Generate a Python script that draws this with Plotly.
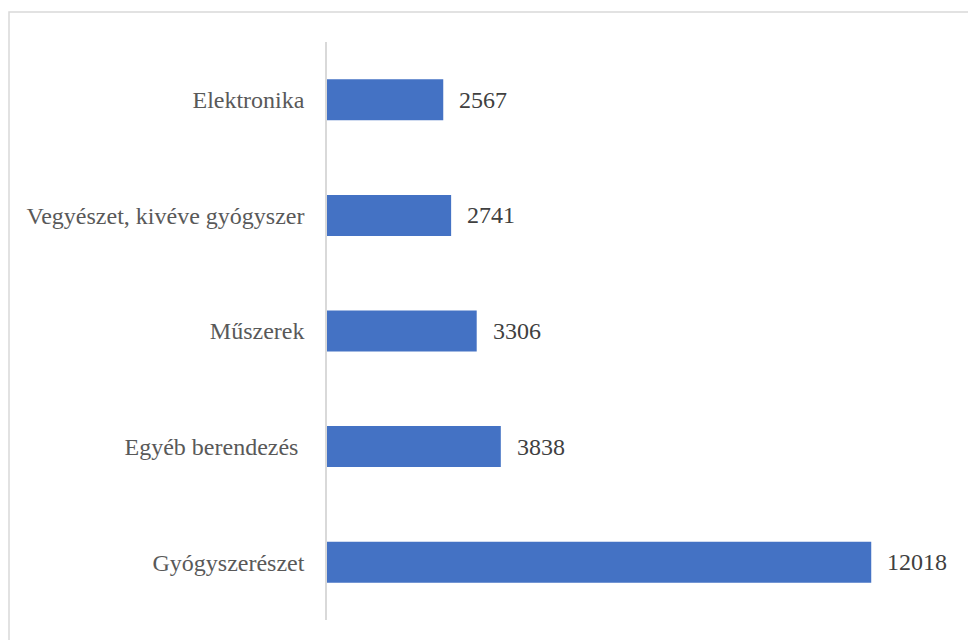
import plotly.graph_objects as go

categories = ["Elektronika", "Vegyészet, kivéve gyógyszer", "Műszerek", "Egyéb berendezés ", "Gyógyszerészet"]
values = [2567, 2741, 3306, 3838, 12018]

FONT = "Liberation Serif, Times New Roman, serif"
W, H = 968, 632
ml, mr, mt, mb = 319, 15, 34, 20
pw = W - ml - mr
ph = H - mt - mb

fig = go.Figure()
fig.add_trace(go.Bar(
    x=values, y=categories, orientation="h",
    marker=dict(color="#4472C4", line=dict(width=0)),
    hoverinfo="x+y",
))
for c, v in zip(categories, values):
    fig.add_annotation(x=v, y=c, text=str(v), showarrow=False, xanchor="left",
                       xshift=14, font=dict(family=FONT, size=24, color="#404040"))

fig.add_shape(type="rect", xref="paper", yref="paper",
              x0=(1 - ml) / pw, x1=1.2, y0=-0.2, y1=(H - mb - 4) / ph,
              line=dict(color="#d9d9d9", width=1.5), fillcolor="rgba(0,0,0,0)", layer="below")

fig.update_layout(
    width=W, height=H,
    margin=dict(l=ml, r=mr, t=mt, b=mb),
    paper_bgcolor="white", plot_bgcolor="white",
    bargap=0.645,
    showlegend=False,
    font=dict(family=FONT, size=24, color="#595959"),
    xaxis=dict(range=[0, 14000], visible=False),
    yaxis=dict(autorange="reversed", showline=True, linecolor="#d9d9d9", linewidth=1.5,
               showgrid=False, ticks="", ticklabelstandoff=16,
               tickfont=dict(family=FONT, size=24, color="#595959")),
)
fig.write_html("out.html")
